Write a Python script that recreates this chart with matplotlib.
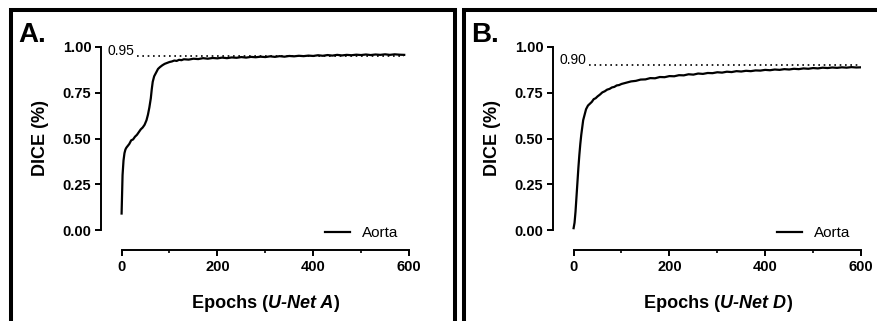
import numpy as np
import matplotlib.pyplot as plt
from matplotlib.patches import Rectangle
from matplotlib.ticker import MultipleLocator, FixedLocator
from matplotlib.offsetbox import TextArea, HPacker, AnchoredOffsetbox

plt.rcParams['font.family'] = ['Liberation Sans', 'DejaVu Sans']

# DICE per epoch, U-Net A
epochs_a = [0, 2, 4, 6, 8, 10, 13, 16, 20, 24, 28, 32, 36, 40, 44, 48, 52, 55, 58, 61,
            63, 65, 68, 72, 76, 80, 85, 90, 95, 100, 105, 110, 115, 120, 125, 130, 140,
            150, 160, 170, 180, 190, 200, 210, 220, 230, 240, 250, 260, 270, 280, 290,
            300, 310, 320, 330, 340, 350, 360, 370, 380, 390, 400, 410, 420, 430, 440,
            450, 460, 470, 480, 490, 500, 510, 520, 530, 540, 550, 560, 570, 580, 590]
dice_a = [0.09, 0.30, 0.38, 0.42, 0.44, 0.45, 0.46, 0.47, 0.49, 0.495, 0.51, 0.52, 0.535,
          0.55, 0.56, 0.575, 0.60, 0.63, 0.67, 0.72, 0.77, 0.81, 0.84, 0.86, 0.88, 0.89,
          0.90, 0.908, 0.913, 0.918, 0.921, 0.926, 0.924, 0.930, 0.928, 0.933, 0.931,
          0.936, 0.934, 0.939, 0.936, 0.940, 0.938, 0.942, 0.939, 0.943, 0.941, 0.945,
          0.942, 0.946, 0.944, 0.947, 0.945, 0.949, 0.946, 0.950, 0.947, 0.951, 0.949,
          0.952, 0.950, 0.953, 0.951, 0.955, 0.952, 0.956, 0.953, 0.957, 0.954, 0.957,
          0.955, 0.958, 0.956, 0.959, 0.956, 0.959, 0.957, 0.960, 0.957, 0.960, 0.958,
          0.957]

# DICE per epoch, U-Net D
epochs_d = [0, 2, 4, 6, 8, 10, 12, 14, 16, 18, 20, 23, 26, 30, 34, 38, 42, 46, 50, 55,
            60, 65, 70, 75, 80, 85, 90, 95, 100, 110, 120, 130, 140, 150, 160, 170, 180,
            190, 200, 210, 220, 230, 240, 250, 260, 270, 280, 290, 300, 310, 320, 330,
            340, 350, 360, 370, 380, 390, 400, 410, 420, 430, 440, 450, 460, 470, 480,
            490, 500, 510, 520, 530, 540, 550, 560, 570, 580, 590, 600]
dice_d = [0.01, 0.04, 0.10, 0.18, 0.26, 0.34, 0.41, 0.47, 0.52, 0.56, 0.60, 0.63, 0.66,
          0.68, 0.69, 0.70, 0.715, 0.72, 0.73, 0.74, 0.752, 0.758, 0.767, 0.771, 0.779,
          0.782, 0.790, 0.792, 0.798, 0.805, 0.812, 0.815, 0.822, 0.823, 0.830, 0.829,
          0.836, 0.835, 0.841, 0.840, 0.846, 0.845, 0.851, 0.849, 0.855, 0.853, 0.858,
          0.857, 0.862, 0.860, 0.865, 0.863, 0.868, 0.866, 0.870, 0.868, 0.872, 0.871,
          0.875, 0.873, 0.877, 0.875, 0.879, 0.877, 0.881, 0.879, 0.883, 0.881, 0.885,
          0.883, 0.887, 0.885, 0.888, 0.886, 0.889, 0.887, 0.890, 0.888, 0.889]

targets = [0.95, 0.90]
panel_letters = ['A.', 'B.']
net_names = ['U-Net A', 'U-Net D']
y_ticks = [0.0, 0.25, 0.5, 0.75, 1.0]
x_ticks = [0, 200, 400, 600]

W, H = 878, 321
fig = plt.figure(figsize=(W / 100, H / 100), dpi=100)

bold = dict(fontsize=13, fontweight='bold', color='black')
bold_it = dict(fontsize=13, fontweight='bold', fontstyle='italic', color='black')


def draw_panel(left_px, frame, letter, epochs, dice, target, net):
    ax = fig.add_axes([left_px / W, 1 - 230 / H, 308 / W, 183 / H])
    ax.plot(epochs, dice, color='black', lw=1.6, label='Aorta')
    ax.plot([32, epochs[-1]], [target, target], color='black', lw=1.2, ls=(0, (1, 2.2)))
    ax.text(-30, target + 0.006, '%.2f' % target, fontsize=10, ha='left', va='baseline')

    ax.set_xlim(-43, 600)
    ax.set_ylim(0, 1)
    for s in ['top', 'right']:
        ax.spines[s].set_visible(False)
    ax.spines['left'].set_bounds(0, 1)
    ax.spines['bottom'].set_bounds(0, 600)
    ax.spines['bottom'].set_position(('outward', 14.4))
    for s in ['left', 'bottom']:
        ax.spines[s].set_linewidth(1.4)

    ax.yaxis.set_major_locator(FixedLocator(y_ticks))
    ax.set_yticklabels(['%.2f' % v for v in y_ticks])
    ax.xaxis.set_major_locator(FixedLocator(x_ticks))
    ax.xaxis.set_minor_locator(FixedLocator([100, 300, 500]))
    ax.tick_params(which='major', length=4, width=1.4, labelsize=10.5, pad=3)
    ax.tick_params(which='minor', length=2.5, width=1.2)
    for lab in ax.get_xticklabels() + ax.get_yticklabels():
        lab.set_fontweight('bold')

    ax.set_ylabel('DICE (%)', fontsize=13, fontweight='bold')
    ax.yaxis.set_label_coords(-0.17, 0.5)

    xlabel = HPacker(children=[TextArea('Epochs (', textprops=bold),
                               TextArea(net, textprops=bold_it),
                               TextArea(')', textprops=bold)],
                     align='baseline', pad=0, sep=0)
    box = AnchoredOffsetbox(loc='upper center', child=xlabel, pad=0, borderpad=0,
                            frameon=False, bbox_to_anchor=(0.534, -0.355),
                            bbox_transform=ax.transAxes)
    ax.add_artist(box)

    ax.legend(loc='center right', bbox_to_anchor=(0.965, -0.016), frameon=False,
              fontsize=11, handlelength=1.65, handletextpad=0.75, borderpad=0,
              borderaxespad=0)

    # panel frame
    fig.add_artist(Rectangle((frame[0] / W, -0.1), (frame[1] - frame[0]) / W, 1.1 - 10 / H,
                             transform=fig.transFigure, fill=False, ec='black', lw=2.9,
                             clip_on=False))
    fig.text((frame[0] + 7) / W, 1 - 42 / H, letter, fontsize=20, fontweight='bold',
             ha='left', va='baseline')
    return ax


draw_panel(101, (11, 455), panel_letters[0], epochs_a, dice_a, targets[0], net_names[0])
draw_panel(553, (464, 900), panel_letters[1], epochs_d, dice_d, targets[1], net_names[1])

fig.savefig('out.png', dpi=100)
